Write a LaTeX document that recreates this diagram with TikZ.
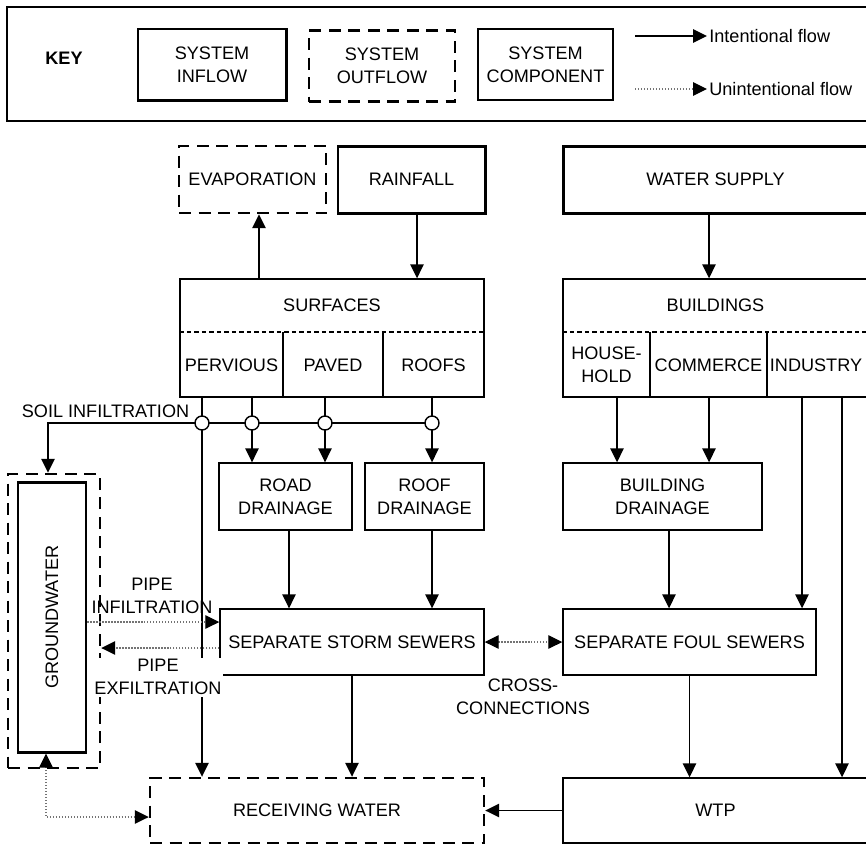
\documentclass[tikz,border=0pt]{standalone}
\usepackage{fontspec}
\setmainfont{Liberation Sans}
\usetikzlibrary{arrows.meta}
\tikzset{
  every node/.style={font=\fontsize{10.3}{13}\selectfont, align=center, inner sep=0pt},
  inflow/.style={draw, rectangle, line width=1.7pt},
  outflow/.style={draw, rectangle, line width=1.4pt, dash pattern=on 2.4mm off 1.5mm},
  comp/.style={draw, rectangle, line width=0.8pt},
  flow/.style={line width=0.8pt, -{Triangle[length=2.8mm,width=2.7mm]}},
  leak/.style={line width=0.7pt, densely dotted, black!55, -{Triangle[length=2.8mm,width=2.7mm,black]}},
  leakboth/.style={leak, {Triangle[length=2.8mm,width=2.7mm,black]}-{Triangle[length=2.8mm,width=2.7mm,black]}},
  junc/.style={draw, circle, fill=white, line width=0.8pt, minimum size=2.8mm}
}
\newcommand{\inbox}{\node[inflow]}
\newcommand{\outbox}{\node[outflow]}
\newcommand{\compbox}{\node[comp]}
\newcommand{\flowarr}{\draw[flow]}
\newcommand{\leakarr}{\draw[leak]}
\newcommand{\plainline}{\draw[line width=0.8pt]}

\begin{document}
\begin{tikzpicture}[x=0.2mm, y=-0.2mm]
\useasboundingbox (0,0) rectangle (866,845);
\clip (0,0) rectangle (866,845);

%key
\draw[line width=0.8pt] (7,7) rectangle (880,121);
\node[font=\bfseries\fontsize{10.3}{13}\selectfont] (keytxt) at (64,58) {KEY};
\inbox[minimum width=29.6mm, minimum height=14.2mm] (keyin) at (212,64.5) {SYSTEM\\INFLOW};
\outbox[minimum width=29.2mm, minimum height=14.2mm] (keyout) at (382,66) {SYSTEM\\OUTFLOW};
\compbox[minimum width=27mm, minimum height=14.2mm] (keycomp) at (545.5,64.5) {SYSTEM\\COMPONENT};
\coordinate (ka1) at (635,36);
\coordinate (kb1) at (707,36);
\coordinate (ka2) at (635,89);
\coordinate (kb2) at (707,89);
\flowarr (ka1) -- (kb1);
\leakarr (ka2) -- (kb2);
\node[anchor=west] (intxt) at (709,36) {Intentional flow};
\node[anchor=west] (untxt) at (709,89) {Unintentional flow};

%inflows and outflows on top
\outbox[minimum width=29.4mm, minimum height=13.4mm] (evap) at (252.5,179.5) {EVAPORATION};
\inbox[minimum width=29.4mm, minimum height=13.4mm] (rain) at (411.5,179.5) {RAINFALL};
\inbox[minimum width=61mm, minimum height=13.4mm] (water) at (715.5,179.5) {WATER SUPPLY};

%surfaces
\compbox[minimum width=60.8mm, minimum height=23.6mm] (surf) at (332,338) {};
\node (surftxt) at (332,305) {SURFACES};
\draw[line width=0.6pt, dash pattern=on 0.9mm off 0.6mm] (surf.west |- 0,332) -- (surf.east |- 0,332);
\plainline (283,332) -- (283,0 |- surf.south);
\plainline (383,332) -- (383,0 |- surf.south);
\node (perv) at (231.5,365) {PERVIOUS};
\node (paved) at (333,365) {PAVED};
\node (roofs) at (433.5,365) {ROOFS};

%buildings
\compbox[minimum width=61mm, minimum height=23.6mm] (bldg) at (715.5,338) {};
\node (bldgtxt) at (715.5,305) {BUILDINGS};
\draw[line width=0.6pt, dash pattern=on 0.9mm off 0.6mm] (bldg.west |- 0,332) -- (bldg.east |- 0,332);
\plainline (650,332) -- (650,0 |- bldg.south);
\plainline (767,332) -- (767,0 |- bldg.south);
\node (house) at (606.5,365) {HOUSE-\\HOLD};
\node (comm) at (708.5,365) {COMMERCE};
\node (ind) at (816,365) {INDUSTRY};

%drainage and sewers
\compbox[minimum width=26.6mm, minimum height=13.4mm] (road) at (285.5,496.5) {ROAD\\DRAINAGE};
\compbox[minimum width=23.8mm, minimum height=13.4mm] (roof) at (424.5,496.5) {ROOF\\DRAINAGE};
\compbox[minimum width=39.8mm, minimum height=13.4mm] (bdrain) at (662.5,496.5) {BUILDING\\DRAINAGE};
\compbox[minimum width=52.8mm, minimum height=13.2mm] (storm) at (352,642) {SEPARATE STORM SEWERS};
\compbox[minimum width=50.6mm, minimum height=13.2mm] (foul) at (689.5,642) {SEPARATE FOUL SEWERS};

%groundwater, receiving water, wtp
\outbox[minimum width=18.4mm, minimum height=58.8mm] (gwout) at (54,621) {};
\inbox[minimum width=13.6mm, minimum height=54mm] (gwin) at (52,617) {};
\node[rotate=90] (gwtxt) at (52,617) {GROUNDWATER};
\outbox[minimum width=66.8mm, minimum height=13mm] (recv) at (317,810.5) {RECEIVING WATER};
\compbox[minimum width=61mm, minimum height=13mm] (wtp) at (715.5,810.5) {WTP};

%columns and rows
\coordinate (cevap) at (259,0);
\coordinate (crain) at (417,0);
\coordinate (cwater) at (709,0);
\coordinate (cperv) at (202,0);
\coordinate (cpav1) at (252,0);
\coordinate (cpav2) at (325,0);
\coordinate (croof) at (432,0);
\coordinate (croad) at (289,0);
\coordinate (chouse) at (617,0);
\coordinate (ccomm) at (709,0);
\coordinate (cind1) at (802,0);
\coordinate (cind2) at (842,0);
\coordinate (cbdrain) at (669,0);
\coordinate (cgw) at (46,0);
\coordinate (soil) at (48,423);
\coordinate (rin) at (0,622);
\coordinate (rex) at (0,648);
\coordinate (rrecv) at (0,817);

\flowarr (cevap |- surf.north) -- (cevap |- evap.south);
\flowarr (crain |- rain.south) -- (crain |- surf.north);
\flowarr (cwater |- water.south) -- (cwater |- bldg.north);

%soil infiltration
\flowarr (croof |- soil) -- (soil) -- (soil |- gwout.north);
\node (soillbl) at (105.5,411) {SOIL INFILTRATION};
\flowarr (cperv |- surf.south) -- (cperv |- recv.north);
\plainline (cpav1 |- surf.south) -- (cpav1 |- soil);
\plainline (cpav2 |- surf.south) -- (cpav2 |- soil);
\plainline (croof |- surf.south) -- (croof |- soil);
\flowarr (cpav1 |- soil) -- (cpav1 |- road.north);
\flowarr (cpav2 |- soil) -- (cpav2 |- road.north);
\flowarr (croof |- soil) -- (croof |- roof.north);
\node[junc] (j1) at (cperv |- soil) {};
\node[junc] (j2) at (cpav1 |- soil) {};
\node[junc] (j3) at (cpav2 |- soil) {};
\node[junc] (j4) at (croof |- soil) {};

\flowarr (croad |- road.south) -- (croad |- storm.north);
\flowarr (croof |- roof.south) -- (croof |- storm.north);
\flowarr (storm.south) -- (storm.south |- recv.north);

%buildings side
\flowarr (chouse |- bldg.south) -- (chouse |- bdrain.north);
\flowarr (ccomm |- bldg.south) -- (ccomm |- bdrain.north);
\flowarr (cind1 |- bldg.south) -- (cind1 |- foul.north);
\flowarr (cind2 |- bldg.south) -- (cind2 |- wtp.north);
\flowarr (cbdrain |- bdrain.south) -- (cbdrain |- foul.north);
\flowarr (foul.south) -- (foul.south |- wtp.north);
\flowarr (wtp.west) -- (recv.east);

%unintentional flows
\draw[leakboth] (storm.east) -- (foul.west);
\node (crosslbl) at (523,697) {CROSS-\\CONNECTIONS};
\leakarr (gwin.east |- rin) -- (storm.west |- rin);
\node (pinlbl) at (152,596) {PIPE\\INFILTRATION};
\leakarr (storm.west |- rex) -- (gwout.east |- rex);
\node[fill=white, inner sep=1pt] (pexlbl) at (158,677) {PIPE\\EXFILTRATION};
\draw[leakboth] (cgw |- gwin.south) -- (cgw |- rrecv) -- (recv.west |- rrecv);
\end{tikzpicture}
\end{document}
